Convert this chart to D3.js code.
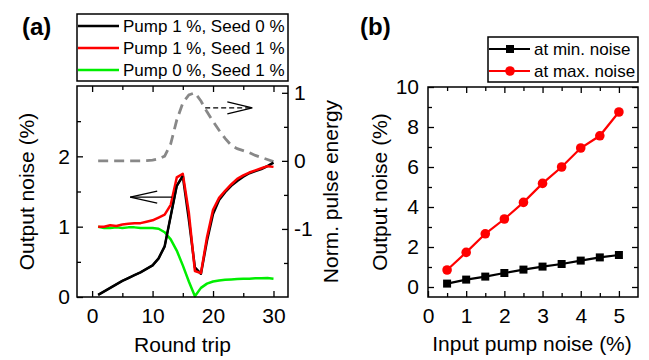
<!DOCTYPE html>
<html>
<head>
<meta charset="utf-8">
<script src="https://cdn.jsdelivr.net/npm/d3@7"></script>
<style>
  body { margin: 0; background: #fff; }
  svg { font-family: "Liberation Sans", Arial, sans-serif; }
</style>
</head>
<body>
<div id="chart"></div>
<script>
// panel (a) data: noise vs round trip
const roundTrips = d3.range(1, 31);
const pump1seed0 = [0.03, 0.08, 0.13, 0.18, 0.23, 0.27, 0.31, 0.35, 0.40, 0.45,
                    0.55, 0.72, 1.15, 1.58, 1.72, 1.10, 0.42, 0.33, 0.80, 1.18,
                    1.38, 1.49, 1.58, 1.65, 1.71, 1.76, 1.79, 1.82, 1.86, 1.91];
const pump1seed1 = [1.00, 1.00, 1.02, 1.01, 1.03, 1.04, 1.05, 1.05, 1.07, 1.09,
                    1.13, 1.17, 1.31, 1.70, 1.75, 1.20, 0.37, 0.34, 0.85, 1.24,
                    1.41, 1.51, 1.60, 1.68, 1.73, 1.77, 1.80, 1.83, 1.86, 1.85];
const pump0seed1 = [1.00, 0.98, 0.98, 0.99, 0.98, 0.99, 0.99, 0.98, 0.98, 0.98,
                    0.97, 0.92, 0.82, 0.66, 0.45, 0.22, 0.01, 0.13, 0.19, 0.22,
                    0.235, 0.245, 0.25, 0.255, 0.26, 0.26, 0.265, 0.265, 0.27, 0.26];
const pulseEnergy = [0, 0, 0, 0, 0, 0, 0, 0, 0.005, 0.01,
                     0.03, 0.07, 0.25, 0.6, 0.85, 0.97, 1.0, 0.88, 0.72, 0.58,
                     0.45, 0.33, 0.23, 0.18, 0.15, 0.12, 0.08, 0.05, 0.02, -0.01];
const seriesA = [
  { name: "Pump 1 %, Seed 0 %", color: "#000000", values: pump1seed0 },
  { name: "Pump 1 %, Seed 1 %", color: "#ff0000", values: pump1seed1 },
  { name: "Pump 0 %, Seed 1 %", color: "#00ee00", values: pump0seed1 }
];

// panel (b) data: output noise vs input pump noise
const pumpNoise = [0.5, 1, 1.5, 2, 2.5, 3, 3.5, 4, 4.5, 5];
const minNoise = [0.17, 0.37, 0.52, 0.70, 0.87, 1.02, 1.15, 1.32, 1.48, 1.60];
const maxNoise = [0.85, 1.73, 2.66, 3.40, 4.23, 5.18, 6.00, 6.95, 7.56, 8.75];

const W = 649, H = 360;
const svg = d3.select("#chart").append("svg")
  .attr("width", W).attr("height", H);

const A = { left: 77, right: 288, top: 86, bottom: 297 };
const B = { left: 428, right: 638, top: 87, bottom: 297 };

const xA = d3.scaleLinear().domain([-2.5, 32.4]).range([A.left, A.right]);
const yA = d3.scaleLinear().domain([0, 3]).range([A.bottom, A.top]);
const yA2 = d3.scaleLinear().domain([-2, 1.1]).range([A.bottom, A.top]);
const xB = d3.scaleLinear().domain([0, 5.5]).range([B.left, B.right]);
const yB = d3.scaleLinear().domain([-0.5, 10]).range([B.bottom, B.top]);

const fs = 21;
const plain = d => String(d); // keeps the ascii hyphen for negatives

// draw inward ticks: major with labels, minor without
function drawAxis(g, axisFn, scale, major, minor, pad, labels) {
  const ax = axisFn(scale).tickValues(major).tickSizeInner(-6).tickSizeOuter(0)
    .tickPadding(pad).tickFormat(labels ? plain : () => "");
  g.append("g").call(ax);
  const ax2 = axisFn(scale).tickValues(minor).tickSizeInner(-4).tickSizeOuter(0)
    .tickFormat(() => "");
  g.append("g").call(ax2);
}

function styleAxes(g) {
  g.selectAll(".domain").remove();
  g.selectAll(".tick line").attr("stroke", "#000").attr("stroke-width", 1.3);
  g.selectAll(".tick text").attr("fill", "#000")
    .style("font-size", fs + "px").style("font-family", "'Liberation Sans', Arial, sans-serif");
}

// ---------- panel (a) ----------
const ga = svg.append("g");

const gxb = ga.append("g").attr("transform", `translate(0,${A.bottom})`);
drawAxis(gxb, d3.axisBottom, xA, [0, 10, 20, 30], [5, 15, 25], 11, true);
const gxt = ga.append("g").attr("transform", `translate(0,${A.top})`);
drawAxis(gxt, d3.axisTop, xA, [0, 10, 20, 30], [5, 15, 25], 0, false);
const gyl = ga.append("g").attr("transform", `translate(${A.left},0)`);
drawAxis(gyl, d3.axisLeft, yA, [0, 1, 2], [0.5, 1.5, 2.5], 7, true);
const gyr = ga.append("g").attr("transform", `translate(${A.right},0)`);
drawAxis(gyr, d3.axisRight, yA2, [-1, 0, 1], [-1.5, -0.5, 0.5], 6, true);
styleAxes(ga);

const lineA = d3.line().x((d, i) => xA(roundTrips[i])).y(d => yA(d));
const lineE = d3.line().x((d, i) => xA(roundTrips[i])).y(d => yA2(d));

ga.append("path").datum(pulseEnergy)
  .attr("d", lineE).attr("fill", "none")
  .attr("stroke", "#888").attr("stroke-width", 2.8)
  .attr("stroke-dasharray", "10,6");

ga.selectAll(".sa").data([seriesA[2], seriesA[0], seriesA[1]]).join("path")
  .attr("d", d => lineA(d.values)).attr("fill", "none")
  .attr("stroke", d => d.color).attr("stroke-width", 2.5)
  .attr("stroke-linejoin", "round");

// bring black above red near the peak as in the figure
ga.append("path").datum(pump1seed0.slice(0, 15))
  .attr("d", lineA).attr("fill", "none")
  .attr("stroke", "#000").attr("stroke-width", 2);

// arrow pointing to left axis
const arrowL = { tip: [6.3, 1.42], tail: 13.2 };
const tipX = xA(arrowL.tip[0]), tipY = yA(arrowL.tip[1]);
ga.append("line").attr("x1", tipX).attr("y1", tipY)
  .attr("x2", xA(arrowL.tail)).attr("y2", tipY)
  .attr("stroke", "#000").attr("stroke-width", 1.3);
ga.append("path")
  .attr("d", `M${tipX + 27},${tipY - 6}L${tipX},${tipY}L${tipX + 27},${tipY + 6}`)
  .attr("fill", "none").attr("stroke", "#000").attr("stroke-width", 1.3);

// dashed arrow pointing to right axis
const arrowR = { tail: 18.7, tip: 26.5, e: 0.78 };
const rTipX = xA(arrowR.tip), rY = yA2(arrowR.e);
ga.append("line").attr("x1", xA(arrowR.tail)).attr("y1", rY)
  .attr("x2", rTipX).attr("y2", rY)
  .attr("stroke", "#000").attr("stroke-width", 1.3).attr("stroke-dasharray", "5,3");
ga.append("path")
  .attr("d", `M${rTipX - 25},${rY - 6}L${rTipX},${rY}L${rTipX - 25},${rY + 6}`)
  .attr("fill", "none").attr("stroke", "#000").attr("stroke-width", 1.3);

ga.append("rect").attr("x", A.left).attr("y", A.top)
  .attr("width", A.right - A.left).attr("height", A.bottom - A.top)
  .attr("fill", "none").attr("stroke", "#000").attr("stroke-width", 1.5);

// legend (a)
const legA = ga.append("g");
legA.append("rect").attr("x", 77).attr("y", 14).attr("width", 211).attr("height", 67)
  .attr("fill", "#fff").attr("stroke", "#000").attr("stroke-width", 1.5);
seriesA.forEach((s, i) => {
  const y = 26 + i * 22;
  legA.append("line").attr("x1", 78).attr("x2", 119).attr("y1", y).attr("y2", y)
    .attr("stroke", s.color).attr("stroke-width", 2.5);
  legA.append("text").attr("x", 123).attr("y", y + 6).text(s.name)
    .style("font-size", "17px");
});

ga.append("text").attr("x", 22).attr("y", 35).text("(a)")
  .style("font-size", "24px").style("font-weight", "bold");
ga.append("text").attr("transform", `translate(34,${(A.top + A.bottom) / 2}) rotate(-90)`)
  .attr("text-anchor", "middle").text("Output noise (%)").style("font-size", fs + "px");
ga.append("text").attr("transform", `translate(338,${(A.top + A.bottom) / 2}) rotate(-90)`)
  .attr("text-anchor", "middle").text("Norm. pulse energy").style("font-size", fs + "px");
ga.append("text").attr("x", (A.left + A.right) / 2).attr("y", 352)
  .attr("text-anchor", "middle").text("Round trip").style("font-size", fs + "px");

// ---------- panel (b) ----------
const gb = svg.append("g");
const bMaj = [0, 1, 2, 3, 4, 5], bMin = [0.5, 1.5, 2.5, 3.5, 4.5];
const yMaj = [0, 2, 4, 6, 8, 10], yMin = [1, 3, 5, 7, 9];

const bxb = gb.append("g").attr("transform", `translate(0,${B.bottom})`);
drawAxis(bxb, d3.axisBottom, xB, bMaj, bMin, 11, true);
const bxt = gb.append("g").attr("transform", `translate(0,${B.top})`);
drawAxis(bxt, d3.axisTop, xB, bMaj.slice(1), bMin, 0, false);
const byl = gb.append("g").attr("transform", `translate(${B.left},0)`);
drawAxis(byl, d3.axisLeft, yB, yMaj, yMin, 9, true);
const byr = gb.append("g").attr("transform", `translate(${B.right},0)`);
drawAxis(byr, d3.axisRight, yB, yMaj, yMin, 0, false);
styleAxes(gb);

const lineB = d3.line().x((d, i) => xB(pumpNoise[i])).y(d => yB(d));

gb.append("path").datum(minNoise).attr("d", lineB).attr("fill", "none")
  .attr("stroke", "#000").attr("stroke-width", 2.2);
gb.selectAll(".sq").data(minNoise).join("rect")
  .attr("x", (d, i) => xB(pumpNoise[i]) - 4).attr("y", d => yB(d) - 4)
  .attr("width", 8).attr("height", 8).attr("fill", "#000");

gb.append("path").datum(maxNoise).attr("d", lineB).attr("fill", "none")
  .attr("stroke", "#ff0000").attr("stroke-width", 2.2);
gb.selectAll(".ci").data(maxNoise).join("circle")
  .attr("cx", (d, i) => xB(pumpNoise[i])).attr("cy", d => yB(d))
  .attr("r", 4.8).attr("fill", "#ff0000");

gb.append("rect").attr("x", B.left).attr("y", B.top)
  .attr("width", B.right - B.left).attr("height", B.bottom - B.top)
  .attr("fill", "none").attr("stroke", "#000").attr("stroke-width", 1.5);

// legend (b)
const legB = gb.append("g");
legB.append("rect").attr("x", 488).attr("y", 37).attr("width", 150).attr("height", 45)
  .attr("fill", "#fff").attr("stroke", "#000").attr("stroke-width", 1.5);
const seriesB = [
  { name: "at min. noise", color: "#000", shape: "square" },
  { name: "at max. noise", color: "#ff0000", shape: "circle" }
];
seriesB.forEach((s, i) => {
  const y = 49 + i * 22;
  legB.append("line").attr("x1", 489).attr("x2", 530).attr("y1", y).attr("y2", y)
    .attr("stroke", s.color).attr("stroke-width", 2.2);
  if (s.shape === "square") {
    legB.append("rect").attr("x", 506).attr("y", y - 4).attr("width", 8).attr("height", 8)
      .attr("fill", s.color);
  } else {
    legB.append("circle").attr("cx", 510).attr("cy", y).attr("r", 4.8).attr("fill", s.color);
  }
  legB.append("text").attr("x", 534).attr("y", y + 6).text(s.name)
    .style("font-size", "17px");
});

gb.append("text").attr("x", 360).attr("y", 35).text("(b)")
  .style("font-size", "24px").style("font-weight", "bold");
gb.append("text").attr("transform", `translate(387,${(B.top + B.bottom) / 2}) rotate(-90)`)
  .attr("text-anchor", "middle").text("Output noise (%)").style("font-size", fs + "px");
gb.append("text").attr("x", (B.left + B.right) / 2 - 1).attr("y", 351)
  .attr("text-anchor", "middle").text("Input pump noise (%)").style("font-size", fs + "px");
</script>
</body>
</html>
